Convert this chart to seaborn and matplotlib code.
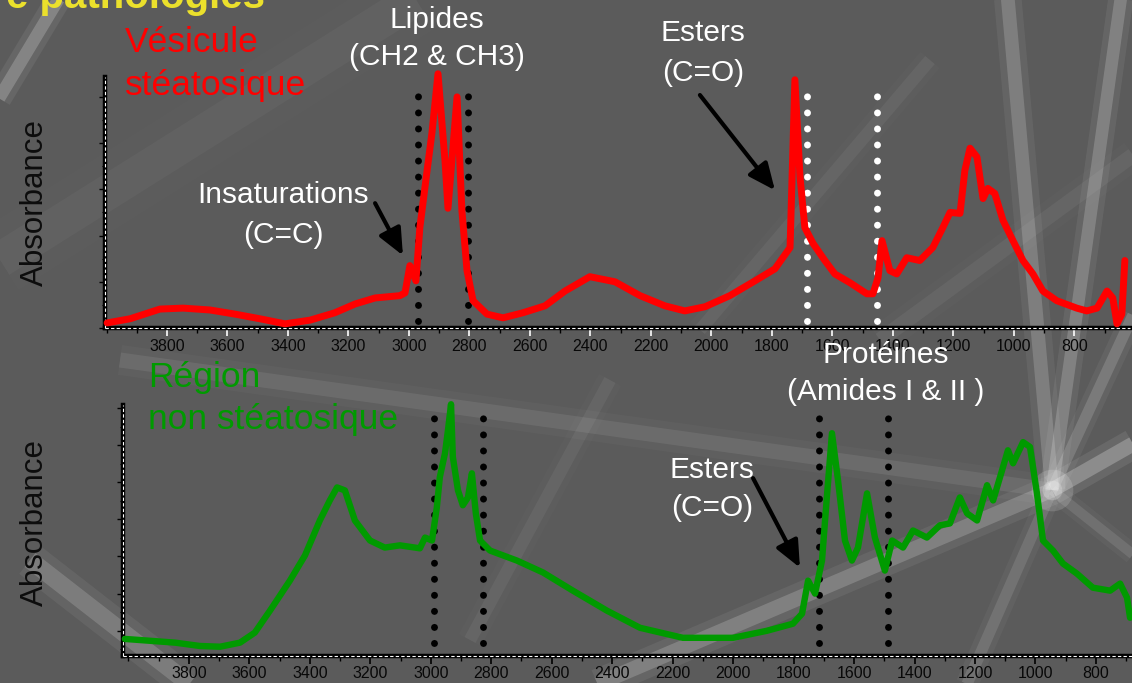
import matplotlib
matplotlib.use("Agg")
import matplotlib.pyplot as plt
import seaborn as sns
import numpy as np
import pandas as pd
from matplotlib.ticker import MultipleLocator

# ---------------- data ----------------
wn_top = [3998, 3922, 3823, 3747, 3658, 3575, 3493, 3410, 3327, 3245, 3178, 3112,
          3030, 3013, 2997, 2977, 2964, 2940, 2924, 2904, 2881, 2871, 2858, 2841,
          2825, 2808, 2788, 2742, 2689, 2623, 2550, 2484, 2402, 2319, 2236, 2154,
          2088, 2021, 1939, 1856, 1790, 1740, 1724, 1707, 1691, 1664, 1625, 1592,
          1542, 1486, 1466, 1449, 1436, 1410, 1387, 1354, 1311, 1268, 1235, 1211,
          1178, 1162, 1145, 1122, 1102, 1086, 1063, 1036, 1003, 970, 937, 904,
          858, 792, 759, 725, 692, 673, 659, 643, 633]
abs_top = [0.11, 0.20, 0.41, 0.43, 0.39, 0.30, 0.20, 0.09, 0.17, 0.33, 0.52, 0.65,
           0.70, 0.76, 1.35, 1.02, 2.17, 3.41, 4.22, 5.50, 3.63, 2.59, 3.63, 5.00,
           2.54, 1.24, 0.59, 0.30, 0.22, 0.33, 0.48, 0.80, 1.11, 1.00, 0.70, 0.48,
           0.37, 0.46, 0.70, 1.02, 1.28, 1.74, 5.37, 3.26, 2.17, 1.83, 1.46, 1.17,
           0.98, 0.74, 0.74, 1.09, 1.89, 1.24, 1.17, 1.52, 1.46, 1.74, 2.17, 2.50,
           2.48, 3.41, 3.89, 3.70, 2.80, 3.02, 2.91, 2.33, 1.89, 1.46, 1.17, 0.80,
           0.59, 0.43, 0.37, 0.43, 0.80, 0.65, 0.09, 0.30, 1.46]

wn_bot = [4012, 3929, 3846, 3764, 3697, 3631, 3582, 3532, 3466, 3416, 3367, 3334,
          3310, 3284, 3251, 3201, 3152, 3102, 3036, 3019, 2996, 2980, 2970, 2953,
          2943, 2933, 2927, 2910, 2894, 2877, 2864, 2851, 2837, 2804, 2715, 2629,
          2530, 2417, 2308, 2166, 2000, 1888, 1802, 1772, 1752, 1729, 1706, 1690,
          1673, 1653, 1630, 1607, 1587, 1557, 1531, 1498, 1474, 1438, 1405, 1359,
          1316, 1283, 1250, 1226, 1193, 1160, 1140, 1117, 1091, 1074, 1041, 1018,
          995, 975, 942, 909, 863, 810, 753, 720, 697, 687]
abs_bot = [0.78, 0.73, 0.68, 0.59, 0.57, 0.68, 0.95, 1.54, 2.35, 3.03, 3.97, 4.51,
           4.86, 4.78, 3.97, 3.43, 3.24, 3.30, 3.22, 3.51, 3.43, 4.32, 5.14, 5.78,
           6.41, 7.10, 5.68, 4.78, 4.38, 4.59, 5.24, 4.16, 3.43, 3.16, 2.89, 2.57,
           2.08, 1.54, 1.08, 0.81, 0.81, 1.00, 1.19, 1.46, 2.35, 2.00, 2.89, 4.59,
           6.32, 5.05, 3.43, 2.89, 3.24, 4.70, 3.51, 2.62, 3.43, 3.24, 3.70, 3.51,
           3.84, 3.89, 4.59, 4.16, 3.97, 4.92, 4.51, 5.14, 5.86, 5.51, 6.08, 5.95,
           4.70, 3.43, 3.16, 2.81, 2.54, 2.16, 2.08, 2.27, 1.89, 1.35]

x_tick_values = [3800, 3600, 3400, 3200, 3000, 2800, 2600, 2400, 2200, 2000,
                 1800, 1600, 1400, 1200, 1000, 800]
lipid_bounds_top = [2970, 2805]
amide_bounds_top = [1684, 1453]
lipid_bounds_bot = [2990, 2827]
amide_bounds_bot = [1716, 1488]

df_top = pd.DataFrame({"wn": wn_top, "A": abs_top})
df_bot = pd.DataFrame({"wn": wn_bot, "A": abs_bot})

# ---------------- style ----------------
sns.set_theme(style="white")
plt.rcParams["font.family"] = ["Liberation Sans", "DejaVu Sans"]

W, H = 1132, 683
BG = "#5b5b5b"
fig = plt.figure(figsize=(W / 100, H / 100), dpi=100, facecolor=BG)


def fx(x):
    return x / W


def fy(y):
    return 1 - y / H


# background decoration (light streaks of the slide)
bg = fig.add_axes([0, 0, 1, 1], zorder=-5)
bg.set_xlim(0, W)
bg.set_ylim(H, 0)
bg.axis("off")
bg.set_facecolor(BG)
streaks = [
    ((-20, 130), (70, -20), 10, 0.20),
    ((0, 260), (430, -10), 28, 0.03),
    ((30, 560), (210, 700), 14, 0.16),
    ((120, 360), (1050, 490), 12, 0.08),
    ((560, 700), (1052, 490), 12, 0.18),
    ((1052, 490), (1007, -10), 11, 0.17),
    ((1052, 490), (1122, -10), 10, 0.19),
    ((1052, 490), (1140, 440), 12, 0.24),
    ((1052, 490), (1140, 300), 9, 0.15),
    ((1052, 490), (960, 700), 9, 0.11),
    ((1052, 490), (1140, 560), 8, 0.10),
    ((930, 60), (700, 330), 10, 0.05),
    ((1140, 150), (880, 340), 12, 0.05),
    ((610, 380), (470, 640), 10, 0.05),
]
for (x0, y0), (x1, y1), w, a in streaks:
    bg.plot([x0, x1], [y0, y1], color="white", lw=w * 1.8, alpha=a * 0.35,
            solid_capstyle="butt")
    bg.plot([x0, x1], [y0, y1], color="white", lw=w * 0.9, alpha=a,
            solid_capstyle="butt")
bg.scatter([1052], [490], s=900, color="white", alpha=0.15, lw=0)
bg.scatter([1052], [490], s=200, color="white", alpha=0.22, lw=0)

# ---------------- axes ----------------
ax1 = fig.add_axes([fx(105), fy(328), (1130 - 105) / W, 251 / H])
ax2 = fig.add_axes([fx(123), fy(656), (1134 - 123) / W, 251 / H])


def style_axis(ax, xlim, ylim, major_col, lab_pad):
    ax.set_facecolor("none")
    ax.set_xlim(*xlim)
    ax.set_ylim(*ylim)
    for s in ["top", "right"]:
        ax.spines[s].set_visible(False)
    for s in ["left", "bottom"]:
        ax.spines[s].set_color("black")
        ax.spines[s].set_linewidth(3.2)
    ax.set_xticks(x_tick_values)
    ax.xaxis.set_minor_locator(MultipleLocator(100))
    ax.yaxis.set_major_locator(MultipleLocator(1))
    ax.yaxis.set_minor_locator(MultipleLocator(0.5))
    ax.tick_params(axis="x", which="major", direction="out", length=5.5, width=1.2,
                   color=major_col, labelsize=11.5, labelcolor="#080808", pad=lab_pad,
                   bottom=True)
    ax.tick_params(axis="x", which="minor", direction="out", length=3.5, width=1.0,
                   color="black", bottom=True)
    ax.tick_params(axis="y", which="major", direction="out", length=4.5, width=1.0,
                   color="black", labelleft=False, left=True)
    ax.tick_params(axis="y", which="minor", direction="out", length=2.5, width=0.8,
                   color="black", left=True)
    ax.set_xlabel("")
    ax.set_ylabel("")
    # white dashed core inside the black axis lines
    ax.plot([0, 1], [0, 0], transform=ax.transAxes, color="white", lw=0.8,
            ls=(0, (3, 2)), clip_on=False, zorder=3)
    ax.plot([0, 0], [0, 1], transform=ax.transAxes, color="white", lw=0.8,
            ls=(0, (3, 2)), clip_on=False, zorder=3)


style_axis(ax1, (4005, 616), (0, 5.43), "white", 2.5)
style_axis(ax2, (4018, 674), (0.32, 7.08), "black", 1.5)

# dotted band limits
dot_style = dict(lw=5.0, ls=(0, (0.01, 2.3)), capstyle="round", zorder=2)
ax1.vlines(lipid_bounds_top, 0.15, 5.09, colors="black", **dot_style)
ax1.vlines(amide_bounds_top, 0.15, 5.09, colors="white", **dot_style)
ax2.vlines(lipid_bounds_bot, 0.68, 6.81, colors="black", **dot_style)
ax2.vlines(amide_bounds_bot, 0.68, 6.81, colors="black", **dot_style)

# spectra
sns.lineplot(data=df_top, x="wn", y="A", ax=ax1, color="#ff0000", lw=5.0,
             estimator=None, sort=False, legend=False, zorder=4)
sns.lineplot(data=df_bot, x="wn", y="A", ax=ax2, color="#009a00", lw=4.6,
             estimator=None, sort=False, legend=False, zorder=4)
for ax in (ax1, ax2):
    for ln in ax.get_lines()[-1:]:
        ln.set_clip_on(False)
        ln.set_solid_joinstyle("round")
        ln.set_solid_capstyle("round")
    ax.set_xlabel("")
    ax.set_ylabel("")

# arrows
arr = dict(arrowstyle="-|>,head_length=0.9,head_width=0.4", lw=3.0, color="black",
           mutation_scale=18, shrinkA=0, shrinkB=0)
ax1.annotate("", xy=(3020, 1.57), xytext=(3112, 2.70), arrowprops=arr,
             annotation_clip=False)
ax1.annotate("", xy=(1790, 2.98), xytext=(2038, 5.04), arrowprops=arr,
             annotation_clip=False)
ax2.annotate("", xy=(1779, 2.70), xytext=(1934, 5.11), arrowprops=arr,
             annotation_clip=False)

# ---------------- texts ----------------
fig.text(fx(265), fy(8), "e pathologies", color="#ebe02c", fontsize=29,
         fontweight="bold", ha="right", va="baseline")

big = 25.5
fig.text(fx(125), fy(42), "Vésicule", color="#ff0000", fontsize=big, ha="left",
         va="center")
fig.text(fx(125), fy(85), "stéatosique", color="#ff0000", fontsize=big, ha="left",
         va="center")
fig.text(fx(148), fy(377), "Région", color="#009a00", fontsize=big, ha="left",
         va="center")
fig.text(fx(148), fy(420), "non stéatosique", color="#009a00", fontsize=big,
         ha="left", va="center")

wt = 21.5
labels_white = [
    (437, 20, "Lipides"), (437, 57, "(CH2 & CH3)"),
    (703, 33, "Esters"), (703, 73, "(C=O)"),
    (283, 195, "Insaturations"), (283, 235, "(C=C)"),
    (886, 355, "Protéines"), (886, 392, "(Amides I & II )"),
    (712, 470, "Esters"), (712, 508, "(C=O)"),
]
for x, y, t in labels_white:
    fig.text(fx(x), fy(y), t, color="white", fontsize=wt, ha="center", va="center")

fig.text(fx(35), fy(203), "Absorbance", color="#0d0d0d", fontsize=22.5, rotation=90,
         ha="center", va="center")
fig.text(fx(35), fy(523), "Absorbance", color="#0d0d0d", fontsize=22.5, rotation=90,
         ha="center", va="center")

fig.savefig("out.png", dpi=100, facecolor=BG)
